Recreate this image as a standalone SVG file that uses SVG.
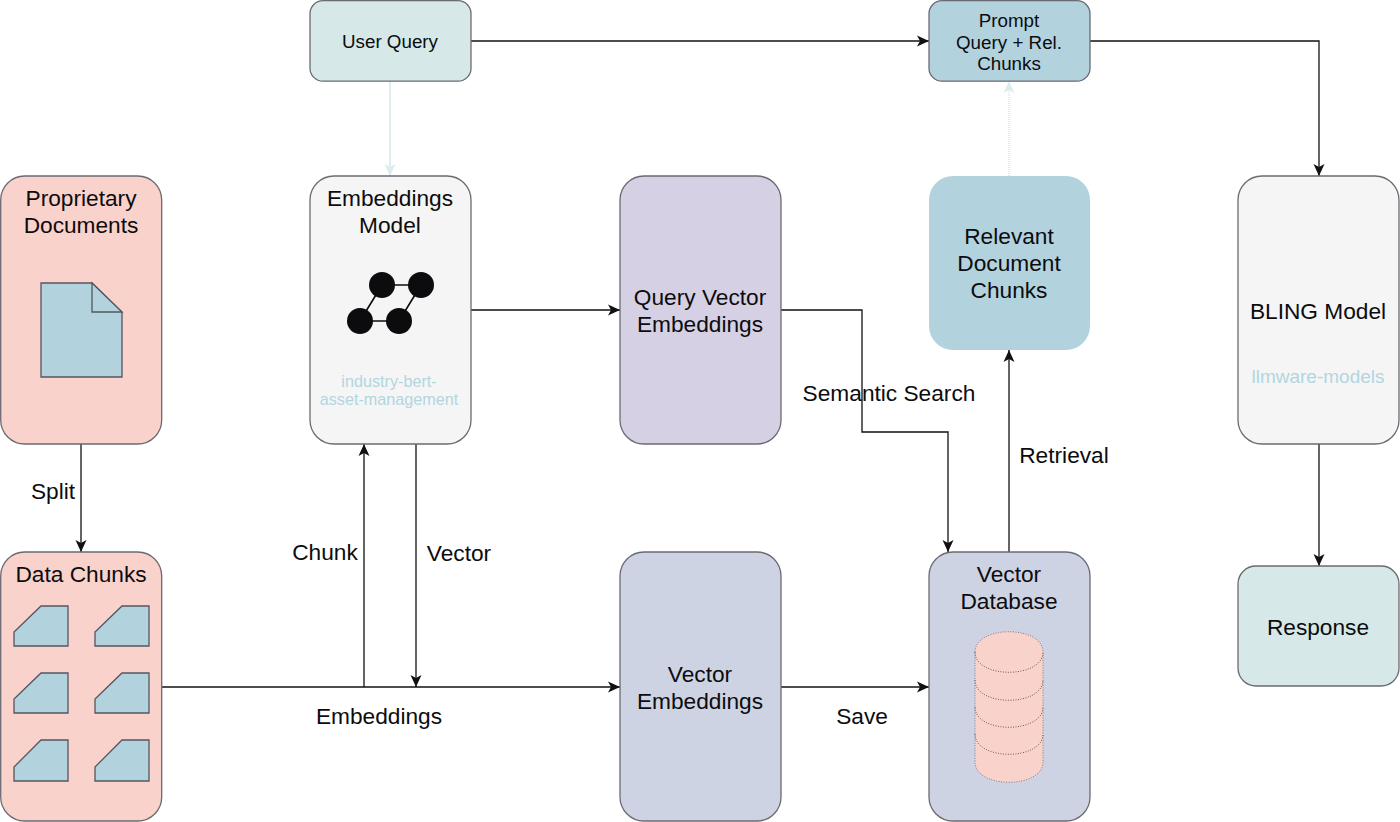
<svg xmlns="http://www.w3.org/2000/svg" width="1400" height="822" viewBox="0 0 1400 822">
<style>
text{font-family:"Liberation Sans",Arial,sans-serif;font-size:22.7px;fill:#0c0c0e;text-anchor:middle}
.n{stroke:#6a6a72;stroke-width:1.3}
.pink{fill:#fad2cc}.purple{fill:#cdd3e3}.lilac{fill:#d5d0e3}.blue{fill:#b2d2de}.grey{fill:#f5f5f5}.teal{fill:#d6e9e8}
.c{fill:none;stroke:#111;stroke-width:1.3;marker-end:url(#a)}
.lc{fill:none;stroke:#cfe4e6;stroke-width:1.3;marker-end:url(#la)}
.sh{fill:#b2d2de;stroke:#55555f;stroke-width:1.3}
.sub{fill:#b2d6e0;font-size:16.2px}
.small{font-size:18.8px}
.subbig{fill:#b2d6e0;font-size:19px}
.cy{fill:#fad2cc;stroke:#8a7a7e;stroke-width:1;stroke-dasharray:1 1.5}
.cyl{fill:none;stroke:#6a5a5e;stroke-width:1;stroke-dasharray:1 1.5}
</style>
<defs>
<marker id="a" markerUnits="userSpaceOnUse" markerWidth="13" markerHeight="12" refX="12" refY="6" orient="auto"><path d="M0 0.5L12 6L0 11.5L3 6Z" fill="#111"/></marker>
<marker id="la" markerUnits="userSpaceOnUse" markerWidth="13" markerHeight="12" refX="12" refY="6" orient="auto"><path d="M0 0.5L12 6L0 11.5L3 6Z" fill="#dcecee"/></marker>
</defs>
<g id="connectors">
<path class="c" d="M81 444V552"/>
<path class="c" d="M162 687H620"/>
<path class="c" d="M364 687V444"/>
<path class="c" d="M416 444V687"/>
<path class="c" d="M781 687H929"/>
<path class="c" d="M471 310H620"/>
<path class="c" d="M781 310H862V432H948V552"/>
<path class="c" d="M1009 552V350"/>
<path class="c" d="M471 41H929"/>
<path class="c" d="M1090 41H1319V176"/>
<path class="c" d="M1319 444V566"/>
<path class="lc" d="M390 81V176"/>
<path class="lc" d="M1009 176V81" stroke-dasharray="1 1"/>
</g>
<g id="labels">
<text x="53" y="499">Split</text>
<text x="325" y="560">Chunk</text>
<text x="459" y="561">Vector</text>
<text x="379" y="724">Embeddings</text>
<text x="862" y="724">Save</text>
<text x="889" y="401">Semantic Search</text>
<text x="1064" y="463">Retrieval</text>
</g>
<g id="proprietary-documents">
<rect class="n pink" x="0.7" y="176" width="161" height="268" rx="24"/>
<text x="81" y="206">Proprietary</text><text x="81" y="233">Documents</text>
<path class="sh" d="M41 283H92L122 312V377H41Z"/>
<path class="sh" d="M92 283V312H122Z"/>
</g>
<g id="data-chunks">
<rect class="n pink" x="0.7" y="552" width="161" height="269" rx="24"/>
<text x="81" y="582">Data Chunks</text>
<path class="sh" d="M41 606H68V646H14V632Z"/>
<path class="sh" d="M122 606H149V646H95V632Z"/>
<path class="sh" d="M41 673H68V713H14V699Z"/>
<path class="sh" d="M122 673H149V713H95V699Z"/>
<path class="sh" d="M41 740H68V781H14V767Z"/>
<path class="sh" d="M122 740H149V781H95V767Z"/>
</g>
<g id="user-query">
<rect class="n teal" x="310" y="0.7" width="161" height="80.5" rx="13"/>
<text class="small" x="390" y="48">User Query</text>
</g>
<g id="embeddings-model">
<rect class="n grey" x="310" y="176" width="161" height="268" rx="24"/>
<text x="390" y="206">Embeddings</text><text x="390" y="233">Model</text>
<path d="M382 285H421M360 321H399M382 285L360 321M421 285L399 321" stroke="#0c0c0e" stroke-width="1.6" fill="none"/>
<circle cx="382" cy="285" r="13" fill="#0c0c0e"/><circle cx="421" cy="285" r="13" fill="#0c0c0e"/><circle cx="360" cy="321" r="13" fill="#0c0c0e"/><circle cx="399" cy="321" r="13" fill="#0c0c0e"/>
<text class="sub" x="389" y="387">industry-bert-</text><text class="sub" x="389" y="405">asset-management</text>
</g>
<g id="query-vector-embeddings">
<rect class="n lilac" x="620" y="176" width="161" height="268" rx="24"/>
<text x="700" y="305">Query Vector</text><text x="700" y="332">Embeddings</text>
</g>
<g id="vector-embeddings">
<rect class="n purple" x="620" y="552" width="161" height="269" rx="24"/>
<text x="700" y="682">Vector</text><text x="700" y="709">Embeddings</text>
</g>
<g id="vector-database">
<rect class="n purple" x="929" y="552" width="161" height="269" rx="24"/>
<text x="1009" y="582">Vector</text><text x="1009" y="609">Database</text>
<path class="cy" d="M975 652C975 625 1043 625 1043 652V762C1043 789 975 789 975 762Z"/>
<path class="cyl" d="M975 652C975 679 1043 679 1043 652M975 680C975 707 1043 707 1043 680M975 707C975 734 1043 734 1043 707M975 734C975 761 1043 761 1043 734"/>
</g>
<g id="relevant-chunks">
<rect class="blue" x="929" y="176" width="161" height="174" rx="24"/>
<text x="1009" y="244">Relevant</text><text x="1009" y="271">Document</text><text x="1009" y="298">Chunks</text>
</g>
<g id="prompt">
<rect class="n blue" x="929" y="0.7" width="161" height="80.5" rx="13"/>
<text class="small" x="1009" y="27">Prompt</text><text class="small" x="1009" y="49">Query + Rel.</text><text class="small" x="1009" y="70">Chunks</text>
</g>
<g id="bling-model">
<rect class="n grey" x="1238" y="176" width="161" height="268" rx="24"/>
<text x="1318" y="319">BLING Model</text>
<text class="subbig" x="1318" y="383">llmware-models</text>
</g>
<g id="response">
<rect class="n teal" x="1238" y="566" width="161" height="120" rx="18"/>
<text x="1318" y="635">Response</text>
</g>
</svg>
